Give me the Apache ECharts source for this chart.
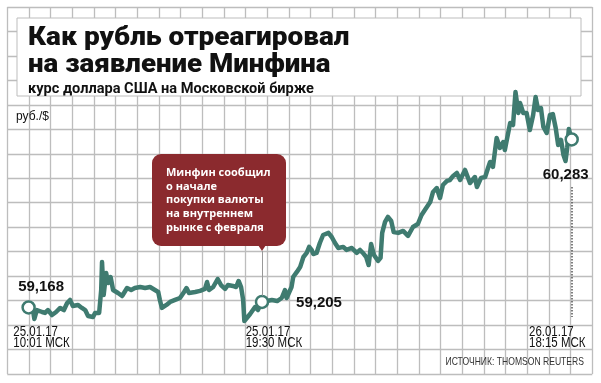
<!DOCTYPE html>
<html><head><meta charset="utf-8">
<script src="https://cdn.jsdelivr.net/npm/echarts@6/dist/echarts.min.js"></script>
<style>html,body{margin:0;padding:0;background:#fff}#c{width:601px;height:383px}</style>
</head><body><div id="c"></div><script>
// trading minutes since 25.01.17 10:01 (overnight break excluded)
const times = [0,11,14,20,33,40,47,57,67,77,
86,94,101,108,120,130,138,145,157,162,
172,177,179,183,189,194,200,206,218,228,
240,250,259,272,284,296,308,316,320,325,
336,345,357,369,379,385,391,406,418,430,
435,440,450,461,469,479,486,498,506,512,
518,523,526,532,540,552,559,569,581,593,
606,617,621,625,629,641,645,654,662,670,
678,684,690,694,702,710,718,731,739,747,
755,767,775,788,800,808,815,823,829,835,
842,852,858,862,869,876,884,890,901,913,
925,937,949,958,966,979,986,995,1003,1010,
1020,1027,1035,1044,1052,1064,1076,1088,1093,1103,
1113,1120,1125,1132,1141,1149,1157,1161,1174,1181,
1187,1194,1198,1206,1214,1222,1230,1236,1242,1249,
1255,1263,1271,1278,1285,1291,1298,1304,1309,1313,
1317,1324];
const rates = [59.168,59.145,59.092,59.151,59.138,59.132,59.151,59.118,59.138,59.165,
59.151,59.198,59.218,59.178,59.185,59.165,59.151,59.112,59.105,59.132,
59.132,59.284,59.470,59.251,59.397,59.331,59.370,59.284,59.264,59.244,
59.297,59.284,59.297,59.304,59.297,59.304,59.284,59.271,59.218,59.165,
59.185,59.205,59.218,59.231,59.271,59.297,59.264,59.271,59.278,59.291,
59.337,59.284,59.304,59.357,59.317,59.291,59.317,59.311,59.304,59.344,
59.304,59.218,59.078,59.098,59.125,59.171,59.151,59.205,59.211,59.218,
59.211,59.231,59.238,59.284,59.231,59.304,59.370,59.404,59.437,59.503,
59.530,59.570,59.550,59.523,59.530,59.596,59.649,59.663,59.636,59.596,
59.563,59.570,59.550,59.563,59.530,59.550,59.530,59.503,59.450,59.589,
59.516,59.477,59.497,59.663,59.736,59.769,59.742,59.669,59.663,59.676,
59.643,59.702,59.722,59.782,59.815,59.868,59.935,59.961,59.895,59.981,
60.008,60.014,60.041,60.061,60.014,60.081,59.994,60.034,59.968,60.028,
60.034,60.094,60.134,60.101,60.293,60.227,60.266,60.213,60.393,60.379,
60.598,60.459,60.525,60.459,60.459,60.346,60.446,60.565,60.479,60.492,
60.366,60.326,60.446,60.452,60.359,60.247,60.280,60.180,60.140,60.227,
60.353,60.283];
const keyTimes = [0, 569, 1324];
const keyRates = [59.168, 59.205, 60.283];
const keyLabels = ['59,168', '59,205', '60,283'];
const dateLabels = ['25.01.17\n10:01 МСК', '25.01.17\n19:30 МСК', '26.01.17\n18:15 МСК'];
const titleLines = ['Как рубль отреагировал', 'на заявление Минфина'];
const subtitle = 'курс доллара США на Московской бирже';
const unitLabel = 'руб./$';
const noteLines = ['Минфин сообщил', 'о начале', 'покупки валюты', 'на внутреннем', 'рынке с февраля'];
const sourceText = 'ИСТОЧНИК: THOMSON REUTERS';

const TEAL = '#3f7b70';
const GRIDC = '#bdbdbd';
const chart = echarts.init(document.getElementById('c'), null, {renderer: 'canvas'});

const labelOffsets = [[12.5, -21], [57, 0.6], [-6, 35.5]];

const option = {
  animation: false,
  backgroundColor: '#fff',
  grid: [
    {left: 28.6, right: 29.3, top: 76.67, bottom: 50.2},
    {left: 7.3, right: 8.7, top: 7, bottom: 9}
  ],
  xAxis: [
    {type: 'value', gridIndex: 0, min: 0, max: 1324, show: false},
    {type: 'value', gridIndex: 1, min: 0, max: 27, interval: 1, axisLine: {show: false}, axisTick: {show: false}, axisLabel: {show: false},
      splitLine: {show: true, lineStyle: {color: GRIDC, width: 1.3}}}
  ],
  yAxis: [
    {type: 'value', gridIndex: 0, min: 59.0, max: 60.7, show: false},
    {type: 'value', gridIndex: 1, min: 0, max: 15, interval: 1, axisLine: {show: false}, axisTick: {show: false}, axisLabel: {show: false},
      splitLine: {show: true, lineStyle: {color: GRIDC, width: 1.3}}}
  ],
  series: [
    {
      type: 'line', xAxisIndex: 0, yAxisIndex: 0, z: 3,
      data: times.map((t, i) => [t, rates[i]]),
      showSymbol: false,
      lineStyle: {color: TEAL, width: 4.5, join: 'round', cap: 'round'},
      markLine: {
        silent: true, symbol: ['none', 'none'], label: {show: false},
        data: [
          [{coord: [1324, 59.968], lineStyle: {type: [1.5, 1.5], color: '#555', width: 1.5}}, {coord: [1324, 59.105]}],
          [{coord: [569, 59.543], lineStyle: {type: 'solid', color: '#999', width: 1}}, {coord: [569, 59.246]}]
        ]
      }
    },
    {
      type: 'scatter', xAxisIndex: 0, yAxisIndex: 0, z: 4,
      symbol: 'circle', symbolSize: 12,
      itemStyle: {color: '#fff', borderColor: TEAL, borderWidth: 2.5, opacity: 1},
      data: keyTimes.map((t, i) => ({
        value: [t, keyRates[i]],
        label: {
          show: true, position: 'inside', offset: labelOffsets[i],
          formatter: keyLabels[i], color: '#111', opacity: 1,
          fontFamily: 'Liberation Sans, Arial, sans-serif', fontSize: 15, fontWeight: 'bold'
        }
      }))
    }
  ]
};
chart.setOption(option);

const pts = keyTimes.map((t, i) => chart.convertToPixel({gridIndex: 0}, [t, keyRates[i]]));
const dateDx = [-15.3, -16.3, -42.7];
const sans = '"Liberation Sans", Arial, sans-serif';
const graphics = [
  {type: 'rect', z: 1, shape: {x: 17, y: 18, width: 564, height: 78},
    style: {fill: '#fff', stroke: GRIDC, lineWidth: 1}},
  {type: 'text', z: 20, x: 28, y: 38, scaleX: 1.075, style: {x: 0, y: 0, text: titleLines[0], fill: '#111', fontFamily: 'Roboto, sans-serif', fontWeight: 900, fontSize: 26, verticalAlign: 'middle'}},
  {type: 'text', z: 20, x: 28, y: 65, scaleX: 1.065, style: {x: 0, y: 0, text: titleLines[1], fill: '#111', fontFamily: 'Roboto, sans-serif', fontWeight: 900, fontSize: 26, verticalAlign: 'middle'}},
  {type: 'text', z: 20, x: 28, y: 89, scaleX: 1.04, style: {x: 0, y: 0, text: subtitle, fill: '#111', fontFamily: 'Roboto, sans-serif', fontWeight: 'bold', fontSize: 14, verticalAlign: 'middle'}},
  {type: 'text', z: 20, style: {x: 16, y: 116.5, text: unitLabel, fill: '#111', fontFamily: sans, fontSize: 12, verticalAlign: 'middle'}},
  {type: 'rect', z: 10, shape: {x: 152, y: 154, width: 134, height: 92, r: 9}, style: {fill: '#8b2a2e'}},
  {type: 'polygon', z: 10, shape: {points: [[pts[1][0] - 4, 245], [pts[1][0] + 4, 245], [pts[1][0], 251]]}, style: {fill: '#8b2a2e'}},
  {type: 'text', z: 20, style: {x: 166, y: 165.8, text: noteLines.join('\n'), fill: '#fff', fontFamily: '"Open Sans", sans-serif', fontWeight: 'bold', fontSize: 11, lineHeight: 13.75, verticalAlign: 'top'}},
  {type: 'text', z: 20, x: 584, y: 361.7, scaleX: 0.78, style: {x: 0, y: 0, text: sourceText, fill: '#333', fontFamily: sans, fontSize: 11, align: 'right', verticalAlign: 'middle'}}
];
dateLabels.forEach((d, i) => {
  graphics.push({type: 'text', z: 20, x: pts[i][0] + dateDx[i], y: 326, scaleX: 0.82,
    style: {x: 0, y: 0, text: d, fill: '#111', fontFamily: sans, fontSize: 14, lineHeight: 11.6, verticalAlign: 'top'}});
});
chart.setOption({graphic: graphics});
</script></body></html>
